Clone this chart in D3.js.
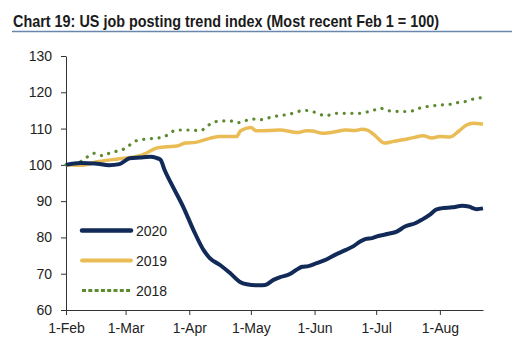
<!DOCTYPE html>
<html>
<head>
<meta charset="utf-8">
<script src="https://cdn.jsdelivr.net/npm/d3@7"></script>
<style>
  body { margin: 0; background: #fff; }
  svg { display: block; font-family: "Liberation Sans", Arial, sans-serif; }
</style>
</head>
<body>
<div id="chart"></div>
<script>
// days counted from 1-Feb (2020 calendar)
const tickDays = [0, 29, 60, 90, 121, 151, 182]
const tickLabels = ['1-Feb', '1-Mar', '1-Apr', '1-May', '1-Jun', '1-Jul', '1-Aug']
const yTicks = [60, 70, 80, 90, 100, 110, 120, 130]

const days2020 = [0, 7, 14, 21, 26, 31, 36, 41, 44, 46, 48, 52, 57, 62, 67, 70, 75, 80, 84.5, 88, 94, 97, 101, 104, 109, 112, 115, 118, 122, 127, 131, 136, 140, 143, 146, 149, 152, 157, 161, 165, 170, 173, 177, 180, 182.5, 188, 193, 196, 200, 203]
const vals2020 = [100, 100.5, 100.4, 99.9, 100.2, 101.8, 102, 102.2, 101.9, 101.4, 98.6, 94, 88.5, 82.1, 76.5, 74.3, 72.4, 70.1, 67.8, 67.1, 66.8, 66.9, 68.3, 69, 69.9, 71, 71.9, 72.1, 72.9, 74, 75.2, 76.5, 77.6, 78.8, 79.6, 79.8, 80.4, 81, 81.6, 83, 83.9, 84.8, 86.2, 87.6, 88, 88.3, 88.7, 88.5, 87.8, 88]

const days2019 = [0, 7, 16, 26, 36, 39, 44, 49, 54, 58, 63, 70, 75, 83, 85, 90, 92.5, 94, 104, 113, 117, 120, 125, 131, 136, 141, 144, 147, 151, 155, 159, 164, 169, 174, 178, 182, 187, 191, 195, 198, 203]
const vals2019 = [100, 99.9, 100.9, 101.7, 102.5, 103.2, 104.6, 105, 105.2, 106, 106.2, 107.3, 107.8, 107.8, 109.4, 110.3, 109.4, 109.4, 109.6, 108.9, 109.4, 109.3, 108.7, 109.1, 109.6, 109.5, 109.8, 109.5, 107.8, 106, 106.4, 106.9, 107.5, 108, 107.4, 107.8, 107.7, 109.2, 111, 111.5, 111.2]

const days2018 = [0, 7, 14, 18, 21, 29, 34, 39, 47, 54, 61, 65, 71, 75, 80, 83, 91, 94, 101, 109, 116, 120, 123, 127, 131, 139, 143, 146, 150, 153, 157, 165, 169, 172, 176, 183, 187, 191, 194, 198, 202]
const vals2018 = [100, 100.9, 103.2, 102.5, 103.2, 104.6, 106.6, 107.1, 107.6, 109.6, 109.6, 109.4, 111.5, 112.1, 112.1, 111.6, 112.6, 112.4, 113.3, 114, 115, 114.7, 114, 113.6, 114.2, 114.2, 114.2, 114.5, 115.1, 115.6, 114.9, 114.7, 114.9, 115.6, 116.1, 116.5, 116.7, 117.2, 117.4, 118.1, 118.5]

const seriesNames = ['2020', '2019', '2018']
const seriesColors = ['#112a58', '#e9bc55', '#5d8b31']

const W = 521, H = 348
const svg = d3.select('#chart').append('svg')
  .attr('width', W).attr('height', H)

// title + rule
svg.append('text')
  .attr('x', 13).attr('y', 27)
  .attr('font-family', '"Liberation Sans Narrow", "Liberation Sans", Arial, sans-serif')
  .attr('font-weight', 'bold')
  .attr('font-size', 17)
  .attr('fill', '#1b1b1b')
  .attr('textLength', 426)
  .attr('lengthAdjust', 'spacingAndGlyphs')
  .text('Chart 19: US job posting trend index (Most recent Feb 1 = 100)')

svg.append('line')
  .attr('x1', 12).attr('x2', 512)
  .attr('y1', 31.5).attr('y2', 31.5)
  .attr('stroke', '#6a86ad').attr('stroke-width', 1.3)

const x = d3.scaleLinear().domain([0, 203]).range([66, 483])
const y = d3.scaleLinear().domain([60, 130]).range([310, 56])

// axes
const xAxis = svg.append('g')
  .attr('transform', 'translate(0,310)')
  .call(d3.axisBottom(x).tickValues(tickDays)
    .tickFormat((d, i) => tickLabels[i]).tickSize(5).tickPadding(8).tickSizeOuter(0))
const yAxis = svg.append('g')
  .attr('transform', 'translate(66,0)')
  .call(d3.axisLeft(y).tickValues(yTicks).tickSize(5).tickPadding(9).tickSizeOuter(0))

for (const g of [xAxis, yAxis]) {
  g.selectAll('path, line').attr('stroke', '#333').attr('stroke-width', 1)
  g.selectAll('text')
    .attr('font-family', '"Liberation Sans", Arial, sans-serif')
    .attr('font-size', 14).attr('fill', '#222')
}

const line = d3.line()
  .x(d => x(d[0]))
  .y(d => y(d[1]))
  .curve(d3.curveMonotoneX)

const pts = (ds, vs) => ds.map((d, i) => [d, vs[i]])

svg.append('path')
  .attr('d', line(pts(days2018, vals2018)))
  .attr('fill', 'none')
  .attr('stroke', seriesColors[2])
  .attr('stroke-width', 3.2)
  .attr('stroke-linecap', 'round')
  .attr('stroke-dasharray', '0.1 7.6')

svg.append('path')
  .attr('d', line(pts(days2019, vals2019)))
  .attr('fill', 'none')
  .attr('stroke', seriesColors[1])
  .attr('stroke-width', 3.5)
  .attr('stroke-linejoin', 'round')

svg.append('path')
  .attr('d', line(pts(days2020, vals2020)))
  .attr('fill', 'none')
  .attr('stroke', seriesColors[0])
  .attr('stroke-width', 4)
  .attr('stroke-linejoin', 'round')

// legend
const legend = svg.append('g')
const legY = [230.5, 260.5, 290.5]
seriesNames.forEach((name, i) => {
  legend.append('line')
    .attr('x1', 82).attr('x2', 131)
    .attr('y1', legY[i]).attr('y2', legY[i])
    .attr('stroke', seriesColors[i])
    .attr('stroke-width', i === 0 ? 4.5 : i === 1 ? 3.8 : 3)
    .attr('stroke-linecap', i === 2 ? 'butt' : 'round')
    .attr('stroke-dasharray', i === 2 ? '4 2.3' : null)
  legend.append('text')
    .attr('x', 136).attr('y', legY[i] + 5)
    .attr('font-size', 14).attr('fill', '#222')
    .text(name)
})
</script>
</body>
</html>
